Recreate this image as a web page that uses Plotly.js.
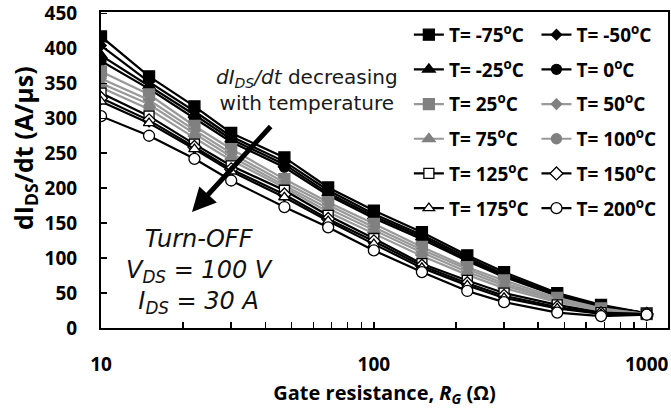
<!DOCTYPE html>
<html>
<head>
<meta charset="utf-8">
<script src="https://cdn.plot.ly/plotly-3.0.1.min.js"></script>
<style>html,body{margin:0;padding:0;background:#fff;}#chart{width:671px;height:409px;}</style>
</head>
<body>
<div id="chart"></div>
<script>
// Gate resistance (ohm)
const rg = [10, 15, 22, 30, 47, 68, 100, 150, 220, 300, 470, 680, 1000];
// dI_DS/dt (A/us) per temperature
const tM75 = [417, 360, 317, 279, 244, 201, 168, 137, 104, 80, 50, 33, 21];
const tM50 = [404, 352, 310, 274, 238, 197, 163, 133, 101, 77, 48, 32, 21];
const tM25 = [390, 346, 305, 270, 234, 193, 160, 130, 98, 75, 47, 31, 21];
const t0   = [382, 342, 300, 266, 230, 190, 157, 127, 96, 73, 46, 30, 20];
const t25  = [367, 334, 289, 256, 213, 180, 149, 116, 87, 68, 43, 28, 20];
const t50  = [357, 326, 283, 250, 208, 176, 144, 112, 84, 64, 41, 27, 20];
const t75  = [350, 320, 278, 245, 204, 171, 140, 108, 80, 61, 39, 26, 20];
const t100 = [344, 313, 272, 240, 201, 166, 135, 103, 76, 57, 37, 25, 20];
const t125 = [336, 303, 263, 232, 197, 161, 128, 92, 68, 50, 33, 22, 20];
const t150 = [329, 297, 259, 227, 191, 156, 124, 89, 64, 46, 30, 21, 20];
const t175 = [324, 293, 256, 224, 187, 153, 120, 86, 61, 43, 28, 20, 19];
const t200 = [303, 275, 242, 211, 173, 144, 111, 80, 53, 37, 22, 17, 19];

const tempLabels = ['-75', '-50', '-25', '0', '25', '50', '75', '100', '125', '150', '175', '200'];
const seriesVals = [tM75, tM50, tM25, t0, t25, t50, t75, t100, t125, t150, t175, t200];

const xTickVals = [10, 100, 1000];
const xTickText = ['10', '100', '1000'];
const xMinorVals = [20, 30, 40, 50, 60, 70, 80, 90, 200, 300, 400, 500, 600, 700, 800, 900];

// styles
const BLK = '#000000', GRY_L = '#999999', GRY_M = '#808080';
const styles = [
  {sym: 'square', size: 11, fill: BLK, edge: BLK, line: BLK},
  {sym: 'diamond', size: 8, fill: BLK, edge: BLK, line: BLK},
  {sym: 'triangle-up', size: 11, fill: BLK, edge: BLK, line: BLK},
  {sym: 'circle', size: 10, fill: BLK, edge: BLK, line: BLK},
  {sym: 'square', size: 11, fill: GRY_M, edge: GRY_M, line: GRY_L},
  {sym: 'diamond', size: 8, fill: GRY_M, edge: GRY_M, line: GRY_L},
  {sym: 'triangle-up', size: 11, fill: GRY_M, edge: GRY_M, line: GRY_L},
  {sym: 'circle', size: 10, fill: GRY_M, edge: GRY_M, line: GRY_L},
  {sym: 'square', size: 10, fill: '#ffffff', edge: BLK, line: BLK},
  {sym: 'diamond', size: 10, fill: '#ffffff', edge: BLK, line: BLK},
  {sym: 'triangle-up', size: 10, fill: '#ffffff', edge: BLK, line: BLK},
  {sym: 'circle', size: 11, fill: '#ffffff', edge: BLK, line: BLK}
];

const traces = seriesVals.map((vals, i) => ({
  x: rg, y: vals, type: 'scatter', mode: 'lines+markers',
  name: 'T= ' + tempLabels[i] + '<sup>o</sup>C',
  legend: (i % 2 === 0) ? 'legend' : 'legend2',
  legendgroup: 'g' + i,
  line: {color: styles[i].line, width: 2.2},
  marker: {symbol: styles[i].sym, size: styles[i].size, color: styles[i].fill,
           line: {color: styles[i].edge, width: 1.3}}
}));

const CAL = 'Open Sans, Lato, sans-serif';
const legendCommon = {
  orientation: 'v', xanchor: 'left', yanchor: 'top', bgcolor: 'rgba(0,0,0,0)',
  borderwidth: 0, traceorder: 'grouped', tracegroupgap: 7, itemwidth: 30,
  font: {family: CAL, size: 19, color: '#000', weight: 700}
};

const layout = {
  width: 671, height: 409,
  margin: {l: 101, r: 3, t: 12, b: 81},
  paper_bgcolor: '#ffffff', plot_bgcolor: '#ffffff',
  showlegend: true,
  legend: Object.assign({}, legendCommon, {x: 0.543, y: 0.988}),
  legend2: Object.assign({}, legendCommon, {x: 0.768, y: 0.988}),
  xaxis: {
    type: 'log', range: [1, 3.078], showgrid: false, zeroline: false,
    showline: true, linecolor: '#000', linewidth: 2, mirror: true,
    tickmode: 'array', tickvals: xTickVals, ticktext: xTickText,
    ticks: 'inside', ticklen: 6, tickwidth: 1.5, tickcolor: '#000',
    minor: {tickmode: 'array', tickvals: xMinorVals, ticks: 'inside', ticklen: 6, tickwidth: 1.5, tickcolor: '#000'},
    ticklabelstandoff: 18,
    tickfont: {family: CAL, size: 19, color: '#000', weight: 700},
    title: {text: 'Gate resistance, <i>R<sub>G</sub></i> (Ω)', standoff: 10,
            font: {family: CAL, size: 20, color: '#000', weight: 700}},
    automargin: false
  },
  yaxis: {
    range: [0, 452], dtick: 50, tick0: 0, showgrid: false, zeroline: false,
    showline: true, linecolor: '#000', linewidth: 2, mirror: true,
    ticks: 'inside', ticklen: 6, tickwidth: 1.5, tickcolor: '#000',
    ticklabelstandoff: 18,
    tickfont: {family: CAL, size: 19, color: '#000', weight: 700},
    automargin: false
  },
  annotations: [
    {xref: 'paper', yref: 'paper', x: (24 - 101) / 567, y: (328 - 148) / 316,
     xanchor: 'center', yanchor: 'middle', textangle: -90, showarrow: false,
     text: 'dI<sub>DS</sub>/dt (A/µs)',
     font: {family: CAL, size: 25, color: '#000', weight: 700}},
    {xref: 'paper', yref: 'paper', x: (307 - 101) / 567, y: (328 - 90) / 316,
     xanchor: 'center', yanchor: 'middle', showarrow: false, align: 'center',
     text: '<i>dI<sub>DS</sub>/dt</i> decreasing<br>with temperature',
     font: {family: 'DejaVu Sans, sans-serif', size: 20, color: '#1a1a1a'}},
    {xref: 'paper', yref: 'paper', x: (192 - 101) / 567, y: (328 - 212) / 316,
     ax: 80, ay: -87, axref: 'pixel', ayref: 'pixel', text: '', showarrow: true,
     arrowhead: 2, arrowsize: 0.95, arrowwidth: 5, arrowcolor: '#000', standoff: 0},
    {xref: 'paper', yref: 'paper', x: (199 - 101) / 567, y: (328 - 271) / 316,
     xanchor: 'center', yanchor: 'middle', showarrow: false, align: 'center',
     text: '<i>Turn-OFF</i><br><i>V<sub>DS</sub> = 100 V</i><br><i>I<sub>DS</sub> = 30 A</i>',
     font: {family: 'DejaVu Sans, sans-serif', size: 24, color: '#111'}}
  ]
};

Plotly.newPlot('chart', traces, layout, {displayModeBar: false, staticPlot: true});
</script>
</body>
</html>
